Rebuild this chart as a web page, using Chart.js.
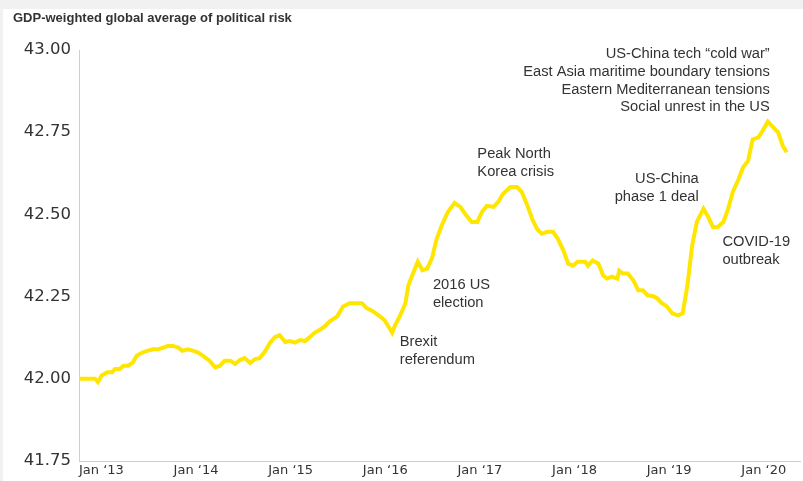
<!DOCTYPE html>
<html lang="en">
<head>
<meta charset="utf-8" />
<title>GDP-weighted global average of political risk</title>
<script src="https://cdn.jsdelivr.net/npm/chart.js@4/dist/chart.umd.min.js"></script>
<style>
  body { margin: 0; background: #f1f1f1; width: 803px; height: 481px; overflow: hidden; }
  #panel { position: absolute; left: 3px; top: 9px; width: 800px; height: 472px; background: #fff; }
  #title { position: absolute; left: 10px; top: 1px; font: bold 13px "Liberation Sans", Arial, sans-serif; color: #333; }
  canvas { position: absolute; left: 0; top: 0; }
</style>
</head>
<body>
<div id="panel">
  <canvas id="risk" width="800" height="472"></canvas>
  <div id="title">GDP-weighted global average of political risk</div>
</div>

<script>
// weekly-ish readings, x in decimal years
const dates = [
  2013.00, 2013.06, 2013.12, 2013.17, 2013.20, 2013.24, 2013.30, 2013.35, 2013.38, 2013.43,
  2013.47, 2013.52, 2013.57, 2013.61, 2013.67, 2013.72, 2013.78, 2013.84, 2013.89, 2013.94,
  2013.99, 2014.05, 2014.09, 2014.15, 2014.21, 2014.26, 2014.31, 2014.38, 2014.44, 2014.49,
  2014.54, 2014.60, 2014.65, 2014.70, 2014.75, 2014.81, 2014.86, 2014.91, 2014.97, 2015.02,
  2015.07, 2015.12, 2015.18, 2015.23, 2015.28, 2015.34, 2015.39, 2015.44, 2015.49, 2015.55,
  2015.60, 2015.65, 2015.73, 2015.79, 2015.86, 2015.94, 2015.99, 2016.04, 2016.11, 2016.18,
  2016.23, 2016.31, 2016.34, 2016.39, 2016.45, 2016.48, 2016.53, 2016.58, 2016.63, 2016.68,
  2016.73, 2016.78, 2016.84, 2016.90, 2016.97, 2017.03, 2017.08, 2017.15, 2017.21, 2017.26,
  2017.31, 2017.38, 2017.43, 2017.48, 2017.56, 2017.63, 2017.68, 2017.74, 2017.79, 2017.84,
  2017.89, 2017.95, 2018.01, 2018.06, 2018.12, 2018.17, 2018.22, 2018.27, 2018.35, 2018.38,
  2018.43, 2018.49, 2018.54, 2018.58, 2018.63, 2018.69, 2018.71, 2018.75, 2018.80, 2018.86,
  2018.91, 2018.96, 2019.01, 2019.07, 2019.11, 2019.16, 2019.21, 2019.27, 2019.33, 2019.38,
  2019.43, 2019.48, 2019.53, 2019.60, 2019.65, 2019.70, 2019.75, 2019.81, 2019.86, 2019.91,
  2019.97, 2020.02, 2020.07, 2020.12, 2020.18, 2020.22, 2020.28, 2020.34, 2020.39, 2020.44,
  2020.48
];
const riskValues = [
  42.00, 42.00, 42.00, 42.00, 41.99, 42.01, 42.02, 42.02, 42.03, 42.03,
  42.04, 42.04, 42.05, 42.07, 42.08, 42.085, 42.09, 42.09, 42.095, 42.10,
  42.10, 42.095, 42.085, 42.09, 42.085, 42.08, 42.07, 42.055, 42.035, 42.04,
  42.055, 42.055, 42.045, 42.057, 42.063, 42.048, 42.06, 42.063, 42.085, 42.11,
  42.127, 42.133, 42.112, 42.115, 42.11, 42.118, 42.115, 42.127, 42.14, 42.15,
  42.16, 42.175, 42.19, 42.22, 42.23, 42.23, 42.23, 42.215, 42.205, 42.19,
  42.178, 42.14, 42.163, 42.19, 42.23, 42.284, 42.32, 42.356, 42.33, 42.335,
  42.366, 42.426, 42.471, 42.508, 42.535, 42.523, 42.502, 42.477, 42.477, 42.508,
  42.526, 42.523, 42.538, 42.562, 42.583, 42.583, 42.568, 42.526, 42.486, 42.456,
  42.441, 42.447, 42.447, 42.426, 42.39, 42.35, 42.344, 42.356, 42.356, 42.344,
  42.36, 42.35, 42.314, 42.305, 42.311, 42.305, 42.329, 42.32, 42.32, 42.299,
  42.269, 42.269, 42.254, 42.251, 42.245, 42.23, 42.221, 42.199, 42.193, 42.199,
  42.284, 42.405, 42.477, 42.517, 42.492, 42.462, 42.462, 42.477, 42.517, 42.568,
  42.607, 42.644, 42.662, 42.728, 42.734, 42.752, 42.782, 42.764, 42.749, 42.707,
  42.689
];
const tickYears = [2013, 2014, 2015, 2016, 2017, 2018, 2019, 2020];
const yTicks = [41.75, 42.00, 42.25, 42.50, 42.75, 43.00];

// x, y = anchor of the first line (data units)
const notes = [
  { lines: ['US-China tech \u201ccold war\u201d', 'East Asia maritime boundary tensions', 'Eastern Mediterranean tensions', 'Social unrest in the US'], x: 2020.30, y: 42.988, align: 'right' },
  { lines: ['Peak North', 'Korea crisis'], x: 2017.21, y: 42.683, align: 'left' },
  { lines: ['US-China', 'phase 1 deal'], x: 2019.55, y: 42.607, align: 'right' },
  { lines: ['COVID-19', 'outbreak'], x: 2019.80, y: 42.417, align: 'left' },
  { lines: ['2016 US', 'election'], x: 2016.74, y: 42.284, align: 'left' },
  { lines: ['Brexit', 'referendum'], x: 2016.39, y: 42.112, align: 'left' }
];

const notePlugin = {
  id: 'notes',
  afterDatasetsDraw(chart) {
    const ctx = chart.ctx;
    const xs = chart.scales.x, ys = chart.scales.y;
    ctx.save();
    ctx.font = '14.7px "Liberation Sans", Arial, sans-serif';
    ctx.fillStyle = '#333';
    ctx.textBaseline = 'middle';
    notes.forEach(n => {
      const px = xs.getPixelForValue(n.x);
      const py = ys.getPixelForValue(n.y);
      ctx.textAlign = n.align;
      n.lines.forEach((t, i) => ctx.fillText(t, px, py + i * 17.8));
    });
    ctx.restore();
  }
};

new Chart(document.getElementById('risk'), {
  type: 'line',
  data: {
    datasets: [{
      data: dates.map((d, i) => ({ x: d, y: riskValues[i] })),
      borderColor: '#ffe600',
      borderWidth: 4,
      pointRadius: 0,
      tension: 0,
      fill: false
    }]
  },
  options: {
    responsive: false,
    animation: false,
    layout: { padding: { top: 41, right: 3, bottom: 2, left: 0 } },
    plugins: { legend: { display: false }, tooltip: { enabled: false } },
    scales: {
      x: {
        type: 'linear',
        min: 2013,
        max: 2020.62,
        grid: { display: false, drawTicks: false },
        border: { color: '#c9ced6', width: 1 },
        afterBuildTicks: s => { s.ticks = tickYears.map(v => ({ value: v })); },
        afterFit: s => { s.height = 18; },
        ticks: {
          align: 'start',
          maxRotation: 0,
          padding: 2,
          color: '#333',
          font: { family: 'DejaVu Sans', size: 13 },
          callback: v => 'Jan \u2018' + String(v).slice(2)
        }
      },
      y: {
        min: 41.75,
        max: 43.0,
        grid: { display: false, drawTicks: false },
        border: { color: '#c9ced6', width: 1 },
        afterBuildTicks: s => { s.ticks = yTicks.map(v => ({ value: v })); },
        afterFit: s => { s.width = 76; },
        ticks: {
          padding: 8,
          color: '#333',
          font: { family: 'DejaVu Sans', size: 16.5 },
          callback: v => v.toFixed(2)
        }
      }
    }
  },
  plugins: [notePlugin]
});
</script>
</body>
</html>
